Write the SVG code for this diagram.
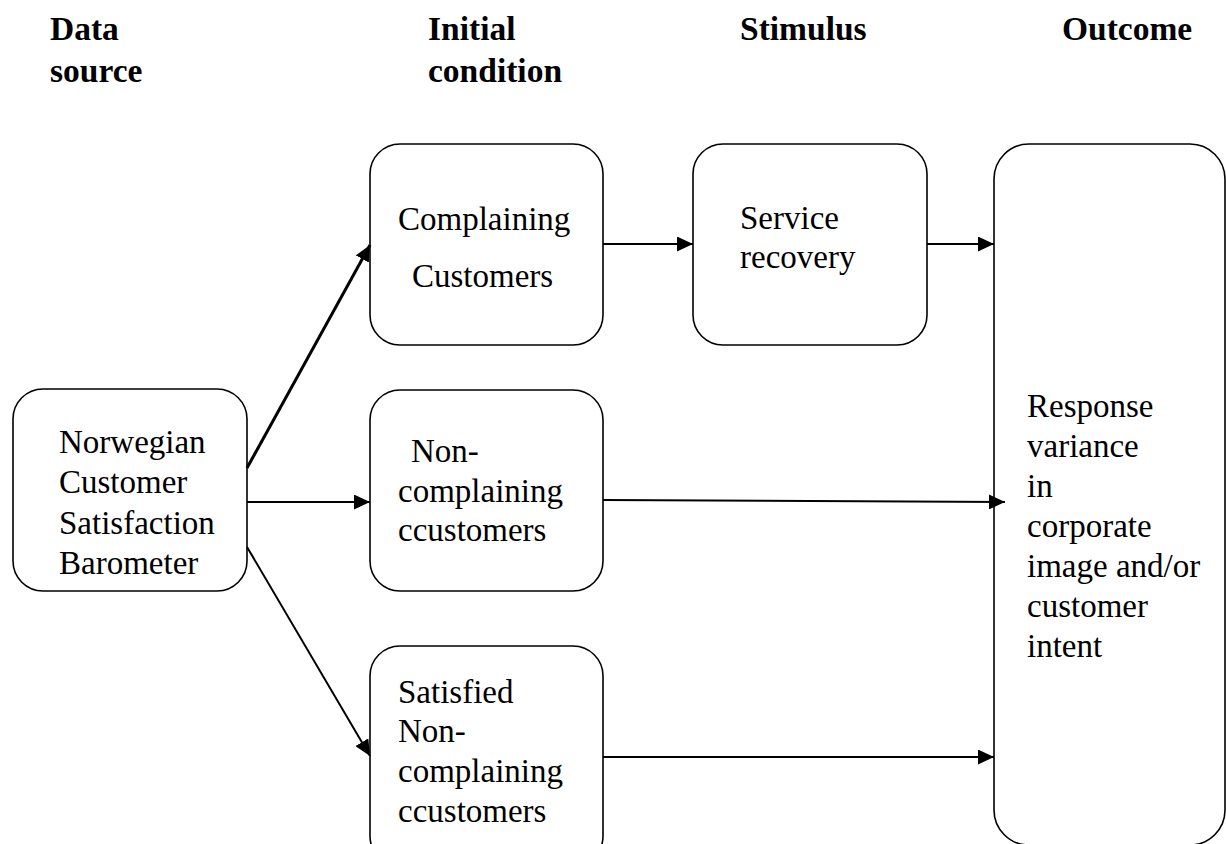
<svg xmlns="http://www.w3.org/2000/svg" width="1226" height="844" viewBox="0 0 1226 844">
<defs>
<style>
.box{fill:#fff;stroke:#000;stroke-width:1.6}
.t{font-family:"Liberation Serif","Times New Roman",serif;font-size:33px;fill:#000}
.h{font-family:"Liberation Serif","Times New Roman",serif;font-size:33.5px;font-weight:bold;fill:#000}
.c{stroke:#000;stroke-width:2;fill:none;marker-end:url(#ah)}
</style>
<marker id="ah" markerUnits="userSpaceOnUse" markerWidth="17" markerHeight="15" refX="16" refY="7.5" orient="auto">
<path d="M0,0 L16,7.5 L0,15 Z" fill="#000"/>
</marker>
</defs>
<rect width="1226" height="844" fill="#fff"/>
<g id="headers">
<text class="h" x="50" y="40">Data</text>
<text class="h" x="50" y="82">source</text>
<text class="h" x="428" y="40">Initial</text>
<text class="h" x="428" y="82">condition</text>
<text class="h" x="740" y="40">Stimulus</text>
<text class="h" x="1062" y="40">Outcome</text>
</g>
<g id="n-barometer">
<rect class="box" x="13" y="389" width="234" height="202" rx="30"/>
<text class="t" x="59" y="453">Norwegian</text>
<text class="t" x="59" y="493">Customer</text>
<text class="t" x="59" y="534">Satisfaction</text>
<text class="t" x="59" y="574">Barometer</text>
</g>
<g id="n-complaining">
<rect class="box" x="370" y="144" width="233" height="201" rx="30"/>
<text class="t" x="398" y="230">Complaining</text>
<text class="t" x="412" y="287">Customers</text>
</g>
<g id="n-service">
<rect class="box" x="693" y="144" width="234" height="201" rx="30"/>
<text class="t" x="740" y="229">Service</text>
<text class="t" x="740" y="268">recovery</text>
</g>
<g id="n-noncomplaining">
<rect class="box" x="370" y="390" width="233" height="201" rx="30"/>
<text class="t" x="411" y="462">Non-</text>
<text class="t" x="398" y="502">complaining</text>
<text class="t" x="398" y="541">ccustomers</text>
</g>
<g id="n-satisfied">
<rect class="box" x="370" y="646" width="233" height="220" rx="30"/>
<text class="t" x="398" y="703">Satisfied</text>
<text class="t" x="398" y="742">Non-</text>
<text class="t" x="398" y="782">complaining</text>
<text class="t" x="398" y="822">ccustomers</text>
</g>
<g id="n-outcome">
<rect class="box" x="994" y="144" width="231" height="701" rx="35"/>
<text class="t" x="1027" y="417">Response</text>
<text class="t" x="1027" y="457">variance</text>
<text class="t" x="1027" y="497">in</text>
<text class="t" x="1027" y="537">corporate</text>
<text class="t" x="1027" y="577">image and/or</text>
<text class="t" x="1027" y="617">customer</text>
<text class="t" x="1027" y="657">intent</text>
</g>
<g id="connectors">
<line class="c" x1="247" y1="468" x2="370" y2="245" style="stroke-width:3"/>
<line class="c" x1="247" y1="502" x2="370" y2="502"/>
<line class="c" x1="247" y1="547" x2="370" y2="756"/>
<line class="c" x1="603" y1="244" x2="693" y2="244"/>
<line class="c" x1="927" y1="244" x2="994" y2="244"/>
<line class="c" x1="603" y1="500" x2="1005" y2="502"/>
<line class="c" x1="603" y1="757" x2="994" y2="757"/>
</g>
</svg>
